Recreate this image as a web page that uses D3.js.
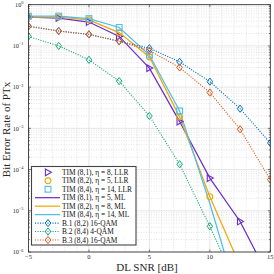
<!DOCTYPE html>
<html>
<head>
<meta charset="utf-8">
<script src="https://cdn.jsdelivr.net/npm/d3@7"></script>
<style>
  body { margin: 0; background: #fff; }
  svg { display: block; font-family: "Liberation Serif", "DejaVu Serif", serif; }
</style>
</head>
<body>
<div id="chart"></div>
<script>
"use strict";

// x values (DL SNR in dB)
var snr = [-5, -2.5, 0, 2.5, 5, 7.5, 10, 12.5, 15];

// TIM curves, ML (solid lines)
var tim81_ml = [0.50, 0.475, 0.38, 0.17, 0.029, 0.00146, 6.2e-5, 5.5e-6, 2.1e-7];
var tim82_ml = [0.50, 0.50, 0.43, 0.21, 0.054, 0.0019, 2.2e-5, 4.6e-7, 1e-8];
var tim84_ml = [0.53, 0.53, 0.46, 0.28, 0.060, 0.00265, 1.5e-5, 5e-8, 1e-10];

// TIM curves, LLR (markers only)
var tim81_llr = [0.50, 0.475, 0.38, 0.17, 0.029, 0.00146, 6.2e-5, 5.5e-6];
var tim82_llr = [0.50, 0.50, 0.43, 0.21, 0.054, 0.0019, 2.2e-5];
var tim84_llr = [0.53, 0.53, 0.46, 0.28, 0.060, 0.00265];

// baselines (dotted with diamonds)
var b1 = [0.30, 0.23, 0.19, 0.13, 0.088, 0.041, 0.0136, 0.003, 4.4e-4];
var b2 = [0.17, 0.10, 0.046, 0.014, 0.002, 1.35e-4, 4.2e-6, 1e-7];
var b3 = [0.30, 0.23, 0.19, 0.13, 0.077, 0.030, 0.0074, 9.5e-4, 5.7e-5];

// ticks
var xTicks = [-5, 0, 5, 10, 15];
var yExps = [0, -1, -2, -3, -4, -5, -6];

var labels = [
    "TIM (8,1), \u03b7 = 8, LLR",
    "TIM (8,2), \u03b7 = 5, LLR",
    "TIM (8,4), \u03b7 = 14, LLR",
    "TIM (8,1), \u03b7 = 5, ML",
    "TIM (8,2), \u03b7 = 8, ML",
    "TIM (8,4), \u03b7 = 14, ML",
    "B.1 (8,2) 16-QAM",
    "B.2 (8,4) 4-QAM",
    "B.3 (8,4) 16-QAM"
];

var purple = "#6a2fcc", orange = "#f0a80c", cyan = "#4dbeee";
var blue = "#0072bd", green = "#17a97c", red = "#e0561e";

function toPoints(ys) {
    return ys.map(function(v, i) { return {x: snr[i], y: v}; });
}

var series = [
    {data: toPoints(tim81_llr), color: purple, marker: "tri", line: null},
    {data: toPoints(tim82_llr), color: orange, marker: "circle", line: null},
    {data: toPoints(tim84_llr), color: cyan, marker: "square", line: null},
    {data: toPoints(tim81_ml), color: purple, marker: null, line: "solid"},
    {data: toPoints(tim82_ml), color: orange, marker: null, line: "solid"},
    {data: toPoints(tim84_ml), color: cyan, marker: null, line: "solid"},
    {data: toPoints(b1), color: blue, marker: "diamond", line: "dot"},
    {data: toPoints(b2), color: green, marker: "diamond", line: "dot"},
    {data: toPoints(b3), color: red, marker: "diamond", line: "dot"}
];

var W = 274, H = 274;
var pLeft = 28.5, pRight = 270.3, pTop = 4.7, pBottom = 252;

var svg = d3.select("#chart").append("svg")
    .attr("width", W)
    .attr("height", H);

var x = d3.scaleLinear().domain([-5, 15]).range([pLeft, pRight]);
var y = d3.scaleLog().domain([1e-6, 1]).range([pBottom, pTop]);

svg.append("defs").append("clipPath")
    .attr("id", "clip")
    .append("rect")
    .attr("x", pLeft).attr("y", pTop)
    .attr("width", pRight - pLeft).attr("height", pBottom - pTop);

// minor grid
var xMinor = d3.range(-5, 15.01, 1).filter(function(v) { return v % 5 !== 0; });
var yMinor = [];
yExps.forEach(function(e) {
    if (e === 0) return;
    for (var k = 2; k <= 9; k++) yMinor.push(k * Math.pow(10, e));
});

var grid = svg.append("g");
grid.selectAll(".xminor").data(xMinor).enter().append("line")
    .attr("x1", function(d) { return x(d); }).attr("x2", function(d) { return x(d); })
    .attr("y1", pTop).attr("y2", pBottom)
    .attr("stroke", "#d0d0d0").attr("stroke-width", 0.6)
    .attr("stroke-dasharray", "1,1.5");
grid.selectAll(".yminor").data(yMinor).enter().append("line")
    .attr("y1", function(d) { return y(d); }).attr("y2", function(d) { return y(d); })
    .attr("x1", pLeft).attr("x2", pRight)
    .attr("stroke", "#d0d0d0").attr("stroke-width", 0.6)
    .attr("stroke-dasharray", "1,1.5");

// major grid
grid.selectAll(".xmajor").data(xTicks).enter().append("line")
    .attr("x1", function(d) { return x(d); }).attr("x2", function(d) { return x(d); })
    .attr("y1", pTop).attr("y2", pBottom)
    .attr("stroke", "#e0e0e0").attr("stroke-width", 0.8);
grid.selectAll(".ymajor").data(yExps).enter().append("line")
    .attr("y1", function(d) { return y(Math.pow(10, d)); }).attr("y2", function(d) { return y(Math.pow(10, d)); })
    .attr("x1", pLeft).attr("x2", pRight)
    .attr("stroke", "#e0e0e0").attr("stroke-width", 0.8);

// lines
var line = d3.line()
    .x(function(d) { return x(d.x); })
    .y(function(d) { return y(d.y); });

var plot = svg.append("g").attr("clip-path", "url(#clip)");

function drawMarker(g, type, color) {
    if (type === "tri") {
        g.append("path").attr("d", "M-2.6,-3.4L3.4,0L-2.6,3.4Z")
            .attr("fill", "none").attr("stroke", color).attr("stroke-width", 1.1);
    } else if (type === "circle") {
        g.append("circle").attr("r", 2.9)
            .attr("fill", "none").attr("stroke", color).attr("stroke-width", 1.1);
    } else if (type === "square") {
        g.append("rect").attr("x", -2.9).attr("y", -2.9).attr("width", 5.8).attr("height", 5.8)
            .attr("fill", "none").attr("stroke", color).attr("stroke-width", 1.1);
    } else if (type === "diamond") {
        g.append("path").attr("d", "M0,-3.6L2.8,0L0,3.6L-2.8,0Z")
            .attr("fill", "none").attr("stroke", color).attr("stroke-width", 1);
    }
}

series.forEach(function(s) {
    if (s.line) {
        plot.append("path")
            .datum(s.data)
            .attr("d", line)
            .attr("fill", "none")
            .attr("stroke", s.color)
            .attr("stroke-width", s.line === "solid" ? 1.25 : 1.1)
            .attr("stroke-dasharray", s.line === "dot" ? "1.1,1.4" : null);
    }
});

series.forEach(function(s) {
    if (s.marker) {
        plot.selectAll(null)
            .data(s.data.filter(function(d) { return d.y >= 1e-6; }))
            .enter().append("g")
            .attr("transform", function(d) { return "translate(" + x(d.x) + "," + y(d.y) + ")"; })
            .each(function() { drawMarker(d3.select(this), s.marker, s.color); });
    }
});

// axes box with inside ticks
var axisColor = "#262626";
svg.append("rect")
    .attr("x", pLeft).attr("y", pTop)
    .attr("width", pRight - pLeft).attr("height", pBottom - pTop)
    .attr("fill", "none").attr("stroke", axisColor).attr("stroke-width", 0.8);

var ticks = svg.append("g").attr("stroke", axisColor).attr("stroke-width", 0.6);
xTicks.forEach(function(v) {
    ticks.append("line").attr("x1", x(v)).attr("x2", x(v)).attr("y1", pBottom).attr("y2", pBottom - 2.5);
    ticks.append("line").attr("x1", x(v)).attr("x2", x(v)).attr("y1", pTop).attr("y2", pTop + 2.5);
});
yExps.forEach(function(e) {
    var yy = y(Math.pow(10, e));
    ticks.append("line").attr("x1", pLeft).attr("x2", pLeft + 2.5).attr("y1", yy).attr("y2", yy);
    ticks.append("line").attr("x1", pRight).attr("x2", pRight - 2.5).attr("y1", yy).attr("y2", yy);
});
yMinor.forEach(function(v) {
    var yy = y(v);
    ticks.append("line").attr("x1", pLeft).attr("x2", pLeft + 1.4).attr("y1", yy).attr("y2", yy);
    ticks.append("line").attr("x1", pRight).attr("x2", pRight - 1.4).attr("y1", yy).attr("y2", yy);
});

// tick labels
svg.append("g").selectAll("text")
    .data(xTicks).enter().append("text")
    .attr("x", function(d) { return x(d); })
    .attr("y", pBottom + 7)
    .attr("text-anchor", "middle")
    .attr("font-size", 6.5)
    .attr("fill", axisColor)
    .text(function(d) { return d < 0 ? "\u2212" + (-d) : d; });

var ylab = svg.append("g").selectAll("text")
    .data(yExps).enter().append("text")
    .attr("x", 23.5)
    .attr("y", function(d) { return y(Math.pow(10, d)) + 2.3; })
    .attr("text-anchor", "end")
    .attr("font-size", 6.2)
    .attr("fill", axisColor);
ylab.append("tspan").text("10");
ylab.append("tspan")
    .attr("dy", -2.8)
    .attr("font-size", 4.4)
    .text(function(d) { return d === 0 ? "0" : "\u2212" + (-d); });

// axis titles
svg.append("text")
    .attr("x", 147)
    .attr("y", 270.5)
    .attr("text-anchor", "middle")
    .attr("font-size", 11)
    .attr("fill", axisColor)
    .text("DL SNR [dB]");

svg.append("text")
    .attr("transform", "translate(10,129.5) rotate(-90)")
    .attr("text-anchor", "middle")
    .attr("font-size", 11)
    .attr("fill", axisColor)
    .text("Bit Error Rate of PTx");

// legend
var lg = svg.append("g");
lg.append("rect")
    .attr("x", 31.5).attr("y", 166.5)
    .attr("width", 104.5).attr("height", 78.5)
    .attr("fill", "#fff")
    .attr("stroke", "#444").attr("stroke-width", 1.1);

var rowY = d3.scaleLinear().domain([0, 8]).range([172.3, 240]);

series.forEach(function(s, i) {
    var g = lg.append("g").attr("transform", "translate(0," + rowY(i) + ")");
    if (s.line) {
        g.append("line")
            .attr("x1", 35).attr("x2", 60)
            .attr("stroke", s.color)
            .attr("stroke-width", s.line === "solid" ? 1.25 : 1.1)
            .attr("stroke-dasharray", s.line === "dot" ? "1.1,1.4" : null);
    }
    if (s.marker) {
        var m = g.append("g").attr("transform", "translate(48,0)");
        drawMarker(m, s.marker, s.color);
    }
    g.append("text")
        .attr("x", 62)
        .attr("y", 2.5)
        .attr("font-size", 7.4)
        .attr("fill", "#111")
        .text(labels[i]);
});
</script>
</body>
</html>
